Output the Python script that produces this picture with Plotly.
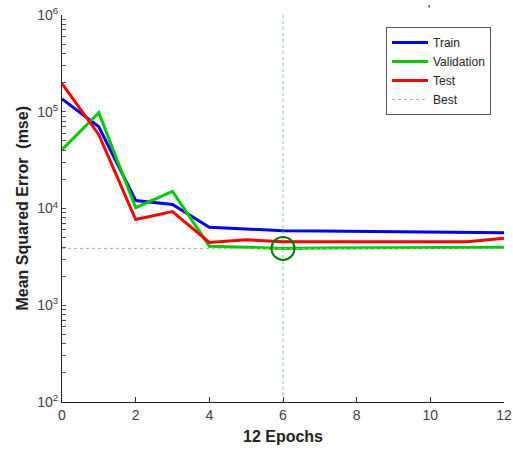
import plotly.graph_objects as go

epochs = list(range(13))
train = [1.36e5, 7.0e4, 1.21e4, 1.10e4, 6.4e3, 6.2e3, 5.9e3, 5.85e3, 5.8e3, 5.75e3, 5.7e3, 5.65e3, 5.6e3]
validation = [4.06e4, 9.8e4, 1.02e4, 1.5e4, 4.08e3, 3.95e3, 3.87e3, 3.9e3, 3.92e3, 3.93e3, 3.95e3, 3.96e3, 3.98e3]
test = [1.95e5, 5.8e4, 7.7e3, 9.3e3, 4.46e3, 4.75e3, 4.54e3, 4.54e3, 4.54e3, 4.54e3, 4.54e3, 4.54e3, 4.94e3]
best_epoch = 6
best_value = 3.87e3
x_range = [0, 12]
y_range = [1e2, 1e6]
x_ticks = [0, 2, 4, 6, 8, 10, 12]
y_exponents = [2, 3, 4, 5, 6]

y_tickvals = []
y_ticktext = []
for e in y_exponents:
    y_tickvals.append(10 ** e)
    y_ticktext.append(f"10<sup>{e}</sup>")
    if e < y_exponents[-1]:
        for m in range(2, 10):
            y_tickvals.append(m * 10 ** e)
            y_ticktext.append("")

font = "Liberation Sans, Arial, sans-serif"
fig = go.Figure()
fig.add_trace(go.Scatter(x=epochs, y=train, mode="lines", name="Train",
                         line=dict(color="#0000ff", width=3)))
fig.add_trace(go.Scatter(x=epochs, y=validation, mode="lines", name="Validation",
                         line=dict(color="#00cc00", width=3)))
fig.add_trace(go.Scatter(x=epochs, y=test, mode="lines", name="Test",
                         line=dict(color="#ff0000", width=3)))
fig.add_trace(go.Scatter(x=x_range, y=[best_value, best_value], mode="lines", name="Best",
                         line=dict(color="#80c880", width=1, dash="dot")))
fig.add_trace(go.Scatter(x=[best_epoch, best_epoch], y=y_range, mode="lines", showlegend=False,
                         line=dict(color="#80c880", width=1, dash="dot")))
fig.add_trace(go.Scatter(x=[best_epoch], y=[best_value], mode="markers", showlegend=False,
                         marker=dict(symbol="circle-open", size=23, color="#007a00",
                                     line=dict(width=2, color="#007a00"))))

fig.update_layout(
    width=513, height=458,
    margin=dict(l=62, r=9, t=15, b=56, autoexpand=False),
    paper_bgcolor="white", plot_bgcolor="white",
    font=dict(family=font, size=13, color="#404040"),
    legend=dict(x=(386 - 62) / 442, y=1 - (27 - 15) / 387, xanchor="left", yanchor="top",
                bordercolor="#555555", borderwidth=1, bgcolor="white",
                font=dict(family=font, size=12, color="#222222"),
                tracegroupgap=0, itemwidth=36),
    xaxis=dict(range=x_range, tickvals=x_ticks, ticks="inside", ticklen=5, tickcolor="#333333",
               automargin=False,
               showline=True, linecolor="#222222", linewidth=1, showgrid=False, zeroline=False,
               tickfont=dict(size=14, color="#404040"),
               title=dict(text="<b>12 Epochs</b>", font=dict(size=16, color="#222222"), standoff=9)),
    yaxis=dict(type="log", range=[2, 6], tickvals=y_tickvals, ticktext=y_ticktext,
               ticks="inside", ticklen=4, tickcolor="#555555",
               automargin=False,
               showline=True, linecolor="#222222", linewidth=1, showgrid=False, zeroline=False,
               tickfont=dict(size=14, color="#404040")),
)
fig.add_annotation(x=-(62 - 22) / 442, y=0.5, xref="paper", yref="paper", xanchor="center",
                   yanchor="middle", textangle=-90, showarrow=False,
                   text="<b>Mean Squared Error  (mse)</b>", font=dict(size=16, color="#222222"))
fig.add_annotation(x=(432 - 62) / 442, y=1 + (15 - 1) / 387, xref="paper", yref="paper",
                   text="'", showarrow=False, font=dict(size=12, color="black"))
fig.write_html("out.html")
